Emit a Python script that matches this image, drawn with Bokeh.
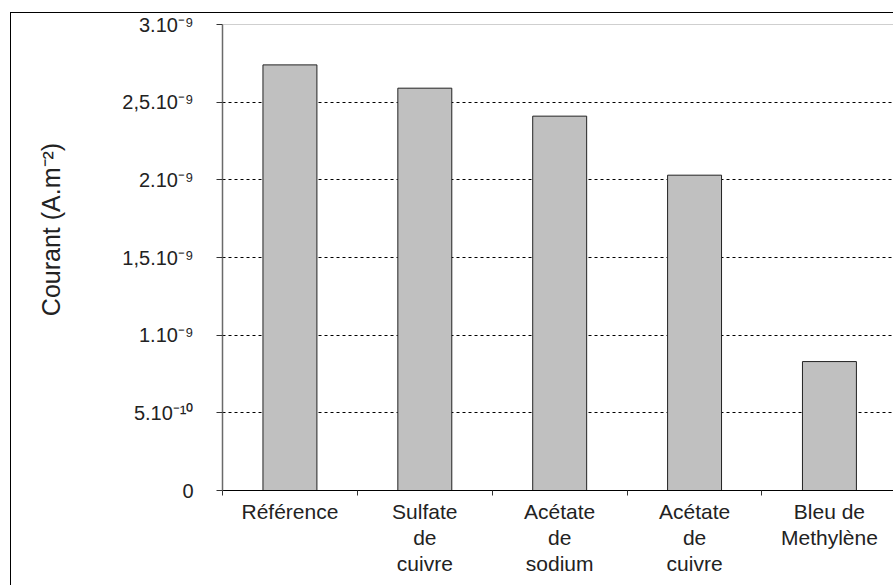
import numpy as np
from bokeh.plotting import figure
from bokeh.layouts import row
from bokeh.models import Range1d, FixedTicker, CustomJSTickFormatter, Span, Label
from bokeh.embed import file_html
from bokeh.resources import INLINE

categories = ["Référence", "Sulfate\nde\ncuivre", "Acétate\nde\nsodium", "Acétate\nde\ncuivre", "Bleu de\nMethylène"]
courant = [2.74e-9, 2.59e-9, 2.41e-9, 2.03e-9, 0.83e-9]
y_ticks = [0, 0.5e-9, 1e-9, 1.5e-9, 2e-9, 2.5e-9, 3e-9]
y_tick_labels = ["0", "5.10⁻¹⁰", "1.10⁻⁹", "1,5.10⁻⁹", "2.10⁻⁹", "2,5.10⁻⁹", "3.10⁻⁹"]
y_title = "Courant (A.m⁻²)"

FONT = "Liberation Sans"

x = np.arange(len(categories)) + 0.5

# narrow panel holding the y-axis title
pt = figure(width=60, height=572, output_backend="svg", toolbar_location=None,
            x_range=Range1d(0, 1), y_range=Range1d(0, 1),
            x_axis_location=None, y_axis_location=None, min_border=0)
pt.outline_line_color = None
pt.xgrid.visible = False
pt.ygrid.visible = False
pt.background_fill_color = "white"
pt.border_fill_color = "white"
pt.add_layout(Label(x=39, y=261, x_units="screen", y_units="screen", text=y_title,
                    angle=90, angle_units="deg", text_align="center", text_baseline="middle",
                    text_font=FONT, text_font_size="25px", text_color="#222222"))

p = figure(width=822, height=572, output_backend="svg", toolbar_location=None,
           x_range=Range1d(0, 4.975), y_range=Range1d(0, 3e-9),
           min_border_left=151, min_border_top=11, min_border_bottom=95, min_border_right=0)
p.outline_line_color = None
p.background_fill_color = "white"
p.border_fill_color = "white"

p.vbar(x=x, top=courant, width=0.4, fill_color="#c0c0c0", line_color="#222222", line_width=1)

# y axis
ya = p.yaxis[0]
ya.ticker = FixedTicker(ticks=y_ticks)
ya.formatter = CustomJSTickFormatter(args=dict(labels=y_tick_labels),
                                     code="return labels[Math.round(tick / 5e-10)];")
ya.axis_line_color = "#6a6a6a"
ya.axis_line_width = 1.5
ya.major_tick_out = 6
ya.major_tick_in = 0
ya.major_tick_line_color = "#333333"
ya.minor_tick_line_color = None
ya.major_label_standoff = 23
ya.major_label_text_font = FONT
ya.major_label_text_font_size = "20px"
ya.major_label_text_color = "#222222"

# x axis
xa = p.xaxis[0]
xa.ticker = FixedTicker(ticks=list(x), minor_ticks=list(range(len(categories) + 1)))
xa.formatter = CustomJSTickFormatter(args=dict(labels=categories),
                                     code="return labels[Math.floor(tick)];")
xa.axis_line_color = "black"
xa.axis_line_width = 1
xa.major_tick_out = 0
xa.major_tick_in = 0
xa.minor_tick_out = 5
xa.minor_tick_in = 0
xa.minor_tick_line_color = "#333333"
xa.major_label_standoff = 4
xa.major_label_text_font = FONT
xa.major_label_text_font_size = "21px"
xa.major_label_text_line_height = 1.15
xa.major_label_text_color = "#222222"

# grid
p.xgrid.visible = False
p.ygrid.grid_line_color = "black"
p.ygrid.grid_line_dash = "3 3"
p.ygrid.grid_line_width = 1

# frame top line
p.add_layout(Span(location=y_ticks[-1], dimension="width", line_color="#a0a0a0", line_width=1))

layout = row(pt, p, spacing=0)
layout.margin = (12, 0, 0, 10)
layout.styles = {"border-left": "1px solid black", "border-top": "1px solid black"}

open("out.html", "w").write(file_html(layout, INLINE))
